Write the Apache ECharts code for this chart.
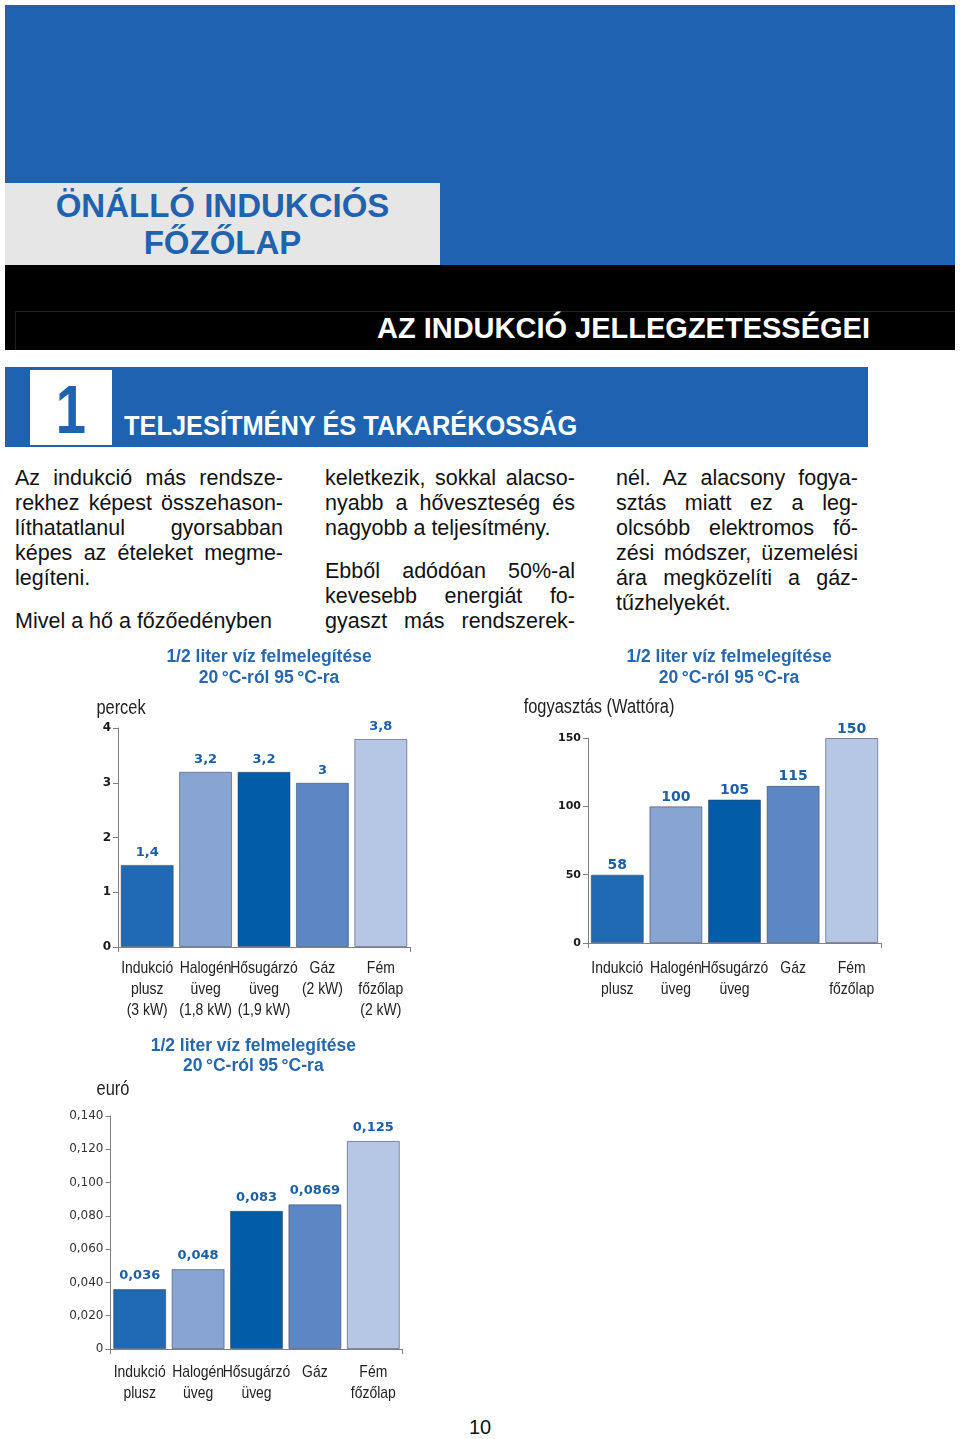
<!DOCTYPE html>
<html>
<head>
<meta charset="utf-8">
<script src="https://cdn.jsdelivr.net/npm/echarts@6/dist/echarts.min.js"></script>
<style>
html,body{margin:0;padding:0;background:#fff;}
#page{position:relative;width:960px;height:1439px;overflow:hidden;font-family:'Liberation Sans',Arial,Helvetica,sans-serif;}
.abs{position:absolute;}
.line{position:absolute;height:25px;line-height:25px;font-size:21.5px;color:#111;white-space:nowrap;}
.j{text-align:justify;text-align-last:justify;}
.l{text-align:left;}
#chart{position:absolute;left:0;top:0;width:960px;height:1439px;}
</style>
</head>
<body>
<div id="page">
  <div class="abs" style="left:5px;top:5px;width:950px;height:260px;background:#1d63b1;"></div>
  <div class="abs" style="left:5px;top:183px;width:435px;height:82px;background:#e6e6e6;"></div>
  <div class="abs" style="left:5px;top:187px;width:435px;text-align:center;font-weight:bold;font-size:33px;line-height:37px;color:#1f63b0;">ÖNÁLLÓ INDUKCIÓS<br>FŐZŐLAP</div>
  <div class="abs" style="left:5px;top:265px;width:950px;height:85px;background:#000;"></div>
  <div class="abs" style="left:15px;top:311px;width:940px;height:1px;background:#222;"></div>
  <div class="abs" style="left:15px;top:311px;width:1px;height:39px;background:#222;"></div>
  <div class="abs" style="right:90px;top:311px;font-weight:bold;font-size:29px;line-height:34px;color:#fff;white-space:nowrap;">AZ INDUKCIÓ JELLEGZETESSÉGEI</div>
  <div class="abs" style="left:5px;top:367px;width:863px;height:80px;background:#1d63b1;"></div>
  <div class="abs" style="left:30px;top:370px;width:82px;height:75px;background:#fff;"></div>
  <div class="abs" style="left:30px;top:370px;width:82px;text-align:center;font-weight:bold;font-size:68px;line-height:78px;color:#1d63b1;transform:scaleX(0.8);">1</div>
  <div class="abs" style="left:124px;top:411px;font-weight:bold;font-size:27px;line-height:30px;color:#fff;white-space:nowrap;transform:scaleX(0.94);transform-origin:0 50%;">TELJESÍTMÉNY ÉS TAKARÉKOSSÁG</div>
  <div id="text"></div>
  <div class="abs" style="left:440px;top:1414px;width:80px;text-align:center;font-size:20px;line-height:26px;color:#111;">10</div>
  <div id="chart"></div>
</div>
<script>
// ---------- data ----------
const categoriesTime = ['Indukció\nplusz\n(3 kW)', 'Halogén\nüveg\n(1,8 kW)', 'Hősugárzó\nüveg\n(1,9 kW)', 'Gáz\n(2 kW)', 'Fém\nfőzőlap\n(2 kW)'];
const categoriesShort = ['Indukció\nplusz', 'Halogén\nüveg', 'Hősugárzó\nüveg', 'Gáz', 'Fém\nfőzőlap'];
const timeValues = [1.5, 3.2, 3.2, 3.0, 3.8];
const timeLabels = ['1,4', '3,2', '3,2', '3', '3,8'];
const energyValues = [50, 100, 105, 115, 150];
const energyLabels = ['58', '100', '105', '115', '150'];
const costValues = [0.036, 0.048, 0.083, 0.0869, 0.125];
const costLabels = ['0,036', '0,048', '0,083', '0,0869', '0,125'];
const timeTicks = ['0', '1', '2', '3', '4'];
const energyTicks = ['0', '50', '100', '150'];
const costTicks = ['0', '0,020', '0,040', '0,060', '0,080', '0,100', '0,120', '0,140'];
const chartTitle = '1/2 liter víz felmelegítése\n20\u2009°C-ról 95\u2009°C-ra';
const axisNames = ['percek', 'fogyasztás (Wattóra)', 'euró'];
const barColors = ['#1f6ab2', '#88a4d2', '#035ca8', '#5c87c4', '#b6c6e5'];

// ---------- text columns ----------
const textLines = [
  [15, 268, 478, 'Az indukció más rendsze-', 'j'],
  [15, 268, 503, 'rekhez képest összehason-', 'j'],
  [15, 268, 528, 'líthatatlanul gyorsabban', 'j'],
  [15, 268, 553, 'képes az ételeket megme-', 'j'],
  [15, 268, 578, 'legíteni.', 'l'],
  [15, 268, 621, 'Mivel a hő a főzőedényben', 'l'],
  [325, 250, 478, 'keletkezik, sokkal alacso-', 'j'],
  [325, 250, 503, 'nyabb a hőveszteség és', 'j'],
  [325, 250, 528, 'nagyobb a teljesítmény.', 'l'],
  [325, 250, 571, 'Ebből adódóan 50%-al', 'j'],
  [325, 250, 596, 'kevesebb energiát fo-', 'j'],
  [325, 250, 621, 'gyaszt más rendszerek-', 'j'],
  [616, 242, 478, 'nél. Az alacsony fogya-', 'j'],
  [616, 242, 503, 'sztás miatt ez a leg-', 'j'],
  [616, 242, 528, 'olcsóbb elektromos fő-', 'j'],
  [616, 242, 553, 'zési módszer, üzemelési', 'j'],
  [616, 242, 578, 'ára megközelíti a gáz-', 'j'],
  [616, 242, 603, 'tűzhelyekét.', 'l']
];
const textHost = document.getElementById('text');
textLines.forEach(function (t) {
  const d = document.createElement('div');
  d.className = 'line ' + t[4];
  d.style.left = t[0] + 'px';
  d.style.width = t[1] + 'px';
  d.style.top = (t[2] - 12.5) + 'px';
  d.textContent = t[3];
  textHost.appendChild(d);
});

// ---------- charts ----------
const NARROW_FONT = "17px 'Liberation Sans', Arial, sans-serif";
const NAME_FONT = "20px 'Liberation Sans', Arial, sans-serif";
const NARROW_SCALE = 0.82;
const WIDE = "'DejaVu Sans',sans-serif";
const axisGrey = '#808080';

const specs = [
  {grid: {left: 118, top: 728, width: 292, height: 219}, cats: categoriesTime, vals: timeValues, labels: timeLabels,
   max: 4, interval: 1, ticks: timeTicks, tickFont: {fontFamily: WIDE, fontWeight: 'bold', fontSize: 12, color: '#1a1a1a'},
   labelFont: 13, labelDist: 6, catMargin: 11, name: axisNames[0], nameDx: 3, nameDy: 20},
  {grid: {left: 588, top: 738, width: 293, height: 205}, cats: categoriesShort, vals: energyValues, labels: energyLabels,
   max: 150, interval: 50, ticks: energyTicks, tickFont: {fontFamily: WIDE, fontWeight: 'bold', fontSize: 11, color: '#1a1a1a'},
   labelFont: 14, labelDist: 2, catMargin: 15, name: axisNames[1], nameDx: 11, nameDy: 31},
  {grid: {left: 110.5, top: 1116, width: 292, height: 233}, cats: categoriesShort, vals: costValues, labels: costLabels,
   max: 0.14, interval: 0.02, ticks: costTicks, tickFont: {fontFamily: WIDE, fontWeight: 'normal', fontSize: 12, color: '#333'},
   labelFont: 13, labelDist: 7, catMargin: 12.5, name: axisNames[2], nameDx: 2.5, nameDy: 27}
];

const option = {animation: false, grid: [], xAxis: [], yAxis: [], series: [], graphic: []};
specs.forEach(function (s, i) {
  option.grid.push(s.grid);
  option.xAxis.push({
    type: 'category', gridIndex: i, data: s.cats,
    axisLine: {show: true, lineStyle: {color: axisGrey, width: 1}},
    axisTick: {show: true, length: 5, interval: function (idx) { return idx === 0; }, lineStyle: {color: axisGrey}},
    axisLabel: {show: false},
    splitLine: {show: false}
  });
  option.yAxis.push({
    type: 'value', gridIndex: i, min: 0, max: s.max, interval: s.interval,
    axisLine: {show: true, lineStyle: {color: axisGrey, width: 1}},
    axisTick: {show: true, length: 5, lineStyle: {color: axisGrey}},
    axisLabel: Object.assign({margin: 7, formatter: function (v) { return s.ticks[Math.round(v / s.interval)]; }}, s.tickFont),
    splitLine: {show: false}
  });
  option.series.push({
    type: 'bar', xAxisIndex: i, yAxisIndex: i, barWidth: 53,
    data: s.vals.map(function (v, k) {
      return {value: v, itemStyle: {color: barColors[k], borderColor: 'rgba(55,65,85,0.55)', borderWidth: 1}};
    }),
    label: {show: true, position: 'top', distance: s.labelDist,
      formatter: function (p) { return s.labels[p.dataIndex]; },
      fontFamily: WIDE, fontWeight: 'bold', fontSize: s.labelFont, color: '#1d5fa5'}
  });
});

const titlePos = [[269, 667.5], [729, 667.5], [253.3, 1056]];
titlePos.forEach(function (p) {
  option.graphic.push({type: 'text', x: p[0], y: p[1], silent: true,
    style: {text: chartTitle, textAlign: 'center', textVerticalAlign: 'middle',
      font: "bold 17.5px 'Liberation Sans', Arial, sans-serif", lineHeight: 20.5, fill: '#2767ad'}});
});

const chart = echarts.init(document.getElementById('chart'), null, {renderer: 'canvas'});
chart.setOption(option);

// Narrow (condensed) category labels and axis names, placed through the axes' own scales
const extra = [];
specs.forEach(function (s, i) {
  const yZero = chart.convertToPixel({yAxisIndex: i}, 0);
  const yTop = chart.convertToPixel({yAxisIndex: i}, s.max);
  s.cats.forEach(function (c, k) {
    const x = chart.convertToPixel({xAxisIndex: i}, c);
    extra.push({type: 'text', x: x, y: yZero + s.catMargin, scaleX: NARROW_SCALE, silent: true,
      style: {text: c, textAlign: 'center', textVerticalAlign: 'top', font: NARROW_FONT, lineHeight: 21, fill: '#222'}});
  });
  const xAxisPos = chart.convertToPixel({xAxisIndex: i}, s.cats[0]) - s.grid.width / s.cats.length / 2;
  extra.push({type: 'text', x: xAxisPos + s.nameDx, y: yTop - s.nameDy, scaleX: NARROW_SCALE, silent: true,
    style: {text: s.name, textAlign: 'center', textVerticalAlign: 'middle', font: NAME_FONT, fill: '#222'}});
});
chart.setOption({graphic: option.graphic.concat(extra)});
</script>
</body>
</html>
